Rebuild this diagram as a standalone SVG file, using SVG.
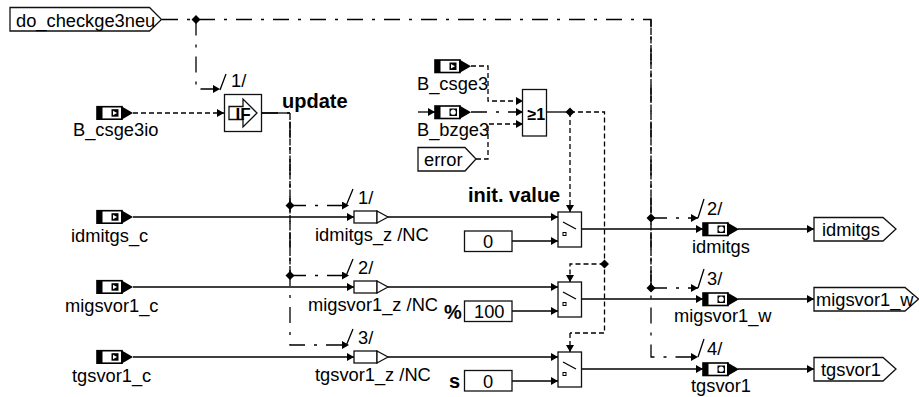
<svg xmlns="http://www.w3.org/2000/svg" width="919" height="397" viewBox="0 0 919 397">
<style>
text{font-family:"Liberation Sans",Arial,sans-serif;font-size:18.3px;fill:#000}
.b{font-weight:bold;font-size:20px}
.box{fill:#fff;stroke:#111;stroke-width:1.300}
line,path.w,polyline{fill:none;stroke:#000;stroke-width:1.300}
.dd{stroke-dasharray:16 9 3 9}
.dot{stroke-dasharray:5 3}
.dn{stroke-dasharray:7 1.500}
.a{marker-end:url(#ah)}
.k{fill:#000;stroke:none}
</style>
<defs>
<marker id="ah" markerUnits="userSpaceOnUse" markerWidth="9" markerHeight="9" refX="7" refY="4" orient="auto"><path d="M0,0L7,4L0,8Z" fill="#000"/></marker>
<g id="icon"><rect x="0" y="0" width="25" height="12.500" fill="#fff" stroke="#000" stroke-width="1.600"/><rect x="0" y="0" width="5.500" height="12.500" fill="#000"/><path d="M24,-0.800L36,6.200L24,13.300Z" fill="#000"/></g>
<g id="inI"><use href="#icon"/><rect x="14.500" y="2.500" width="7" height="7.500" fill="#000"/><path d="M16,4L20,6.200L16,8.500Z" fill="#fff"/></g>
<g id="outI"><use href="#icon"/><rect x="14.500" y="2.500" width="7.500" height="7.500" fill="#000"/><circle cx="18.200" cy="6.200" r="2.600" fill="#fff"/></g>
<g id="sw"><rect class="box" x="0" y="0" width="23.500" height="35"/><line x1="5" y1="10" x2="18" y2="17" stroke-width="2"/><rect x="5" y="20.500" width="3" height="3" fill="none" stroke="#000"/></g>
<g id="dl"><rect class="box" x="0" y="-6" width="23" height="12"/><path class="box" d="M23,-6L34,0L23,6Z"/></g>
</defs>
<g id="connectors">
<polyline class="dd" points="162,19.500 651,19.500 651,357 698,357" marker-end="url(#ah)"/>
<line class="dn" x1="651" y1="19.500" x2="651" y2="288"/>
<polyline class="dd a" points="196,19.500 196,89 220,89"/>
<line class="dot a" x1="133" y1="113" x2="224" y2="113"/>
<polyline class="dd a" points="262,113 290,113 290,345 349,345"/>
<line x1="262" y1="113" x2="290" y2="113"/>
<line class="dn" x1="290" y1="113" x2="290" y2="275"/>
<line class="dd a" x1="290" y1="205.500" x2="349" y2="205.500"/>
<line class="dd a" x1="290" y1="275.500" x2="349" y2="275.500"/>
<line class="a" x1="133" y1="217" x2="354" y2="217"/>
<line class="a" x1="133" y1="287" x2="354" y2="287"/>
<line class="a" x1="133" y1="357" x2="354" y2="357"/>
<line class="a" x1="388" y1="217" x2="558" y2="217"/>
<line class="a" x1="388" y1="287" x2="558" y2="287"/>
<line class="a" x1="388" y1="357" x2="558" y2="357"/>
<line class="a" x1="512" y1="241" x2="558" y2="241"/>
<line class="a" x1="512" y1="311" x2="558" y2="311"/>
<line class="a" x1="512" y1="381" x2="558" y2="381"/>
<line class="a" x1="582" y1="229" x2="703" y2="229"/>
<line class="a" x1="582" y1="299" x2="703" y2="299"/>
<line class="a" x1="582" y1="369" x2="703" y2="369"/>
<line class="a" x1="738" y1="229" x2="814" y2="229"/>
<line class="a" x1="738" y1="299" x2="814" y2="299"/>
<line class="a" x1="738" y1="369" x2="814" y2="369"/>
<line class="dd a" x1="651" y1="218" x2="698" y2="218"/>
<line class="dd a" x1="651" y1="288" x2="698" y2="288"/>
<polyline class="dot a" points="471,66 488,66 488,101 523,101"/>
<line class="a" x1="418" y1="112" x2="435" y2="112"/>
<line class="dd a" x1="471" y1="112" x2="523" y2="112"/>
<polyline class="dot a" points="476,159 488,159 488,124 523,124"/>
<line x1="547" y1="112" x2="570" y2="112"/>
<polyline class="dot" points="570,112 604.500,112 604.500,333 570,333"/>
<polyline class="dot a" points="570,112 570,212"/>
<polyline class="dot a" points="604.500,264 570,264 570,282"/>
<polyline class="dot a" points="570,333 570,352"/>
<path class="w" d="M346,206L353,189M698,218L704,199M346,276L353,259M346,346L353,329M698,288L704,269M698,357L704,339M220,90L226,74"/>
<path class="k" d="M196,15L200.500,19.500L196,24L191.500,19.500ZM290,201L294.500,205.500L290,210L285.500,205.500ZM290,271L294.500,275.500L290,280L285.500,275.500ZM651,213.500L655.500,218L651,222.500L646.500,218ZM651,283.500L655.500,288L651,292.500L646.500,288ZM570,107.500L574.500,112L570,116.500L565.500,112ZM604.500,259.500L609,264L604.500,268.500L600,264Z"/>
</g>
<g id="do_checkge3neu"><path class="box" d="M10,7.500H149.500L161.500,19.500L149.500,31H10Z"/><text x="16" y="26.500">do_checkge3neu</text></g>
<g id="B_csge3io"><use href="#inI" x="97" y="106.700"/><text x="73" y="136">B_csge3io</text></g>
<g id="if"><rect class="box" x="224.500" y="94.500" width="37" height="37"/><path d="M229,106.500H243V99L257,113L243,127V119.500H229Z" fill="#fff" stroke="#111" stroke-width="1.300"/><text class="b" x="235.500" y="120" style="font-size:17px">IF</text></g>
<text class="b" x="282" y="108">update</text>
<text x="231" y="87">1/</text>
<g id="B_csge3"><use href="#inI" x="435" y="60"/><text x="417" y="90">B_csge3</text></g>
<g id="B_bzge3"><use href="#outI" x="435" y="106"/><text x="417" y="136">B_bzge3</text></g>
<g id="error"><path class="box" d="M418,147.500H465L476,159L465,171H418Z"/><text x="424" y="166">error</text></g>
<g id="or"><rect class="box" x="522.500" y="89.500" width="24" height="46.500"/><text class="b" x="527.500" y="120" style="font-size:16px">≥1</text></g>
<text class="b" x="468" y="201.500">init. value</text>
<g id="idmitgs_c"><use href="#inI" x="97" y="210.700"/><text x="71" y="242">idmitgs_c</text></g>
<g id="migsvor1_c"><use href="#inI" x="97" y="280.700"/><text x="65" y="312">migsvor1_c</text></g>
<g id="tgsvor1_c"><use href="#inI" x="97" y="350.700"/><text x="72" y="382">tgsvor1_c</text></g>
<g id="idmitgs_z"><use href="#dl" x="354" y="217"/><text x="358" y="204">1/</text><text x="315" y="241">idmitgs_z /NC</text></g>
<g id="migsvor1_z"><use href="#dl" x="354" y="287"/><text x="358" y="274">2/</text><text x="308" y="311">migsvor1_z /NC</text></g>
<g id="tgsvor1_z"><use href="#dl" x="354" y="357"/><text x="358" y="344">3/</text><text x="315" y="381">tgsvor1_z /NC</text></g>
<g id="sw1"><use href="#sw" x="558" y="212"/></g>
<g id="sw2"><use href="#sw" x="558" y="282"/></g>
<g id="sw3"><use href="#sw" x="558" y="352"/></g>
<g id="c0"><rect class="box" x="464.500" y="231" width="47.500" height="20.500"/><text x="483" y="248">0</text></g>
<g id="c100"><rect class="box" x="464.500" y="301" width="47.500" height="20.500"/><text x="474" y="318">100</text><text class="b" x="444" y="319">%</text></g>
<g id="cs"><rect class="box" x="464.500" y="370.500" width="47.500" height="20.500"/><text x="483" y="388">0</text><text class="b" x="449" y="388">s</text></g>
<g id="idmitgs"><use href="#outI" x="703" y="223"/><text x="707" y="215">2/</text><text x="692" y="252.500">idmitgs</text></g>
<g id="migsvor1_w"><use href="#outI" x="703" y="293"/><text x="707" y="285">3/</text><text x="674" y="322">migsvor1_w</text></g>
<g id="tgsvor1"><use href="#outI" x="703" y="363"/><text x="707" y="355">4/</text><text x="691" y="392">tgsvor1</text></g>
<g id="out_idmitgs"><path class="box" d="M814,217.500H883L896,229L883,241H814Z"/><text x="822" y="235.500">idmitgs</text></g>
<g id="out_migsvor1_w"><path class="box" d="M814,287.500H905L918.500,299L905,311H814Z"/><text x="816" y="305.500">migsvor1_w</text></g>
<g id="out_tgsvor1"><path class="box" d="M814,357.500H883L896,369L883,381H814Z"/><text x="821" y="375.500">tgsvor1</text></g>
</svg>
